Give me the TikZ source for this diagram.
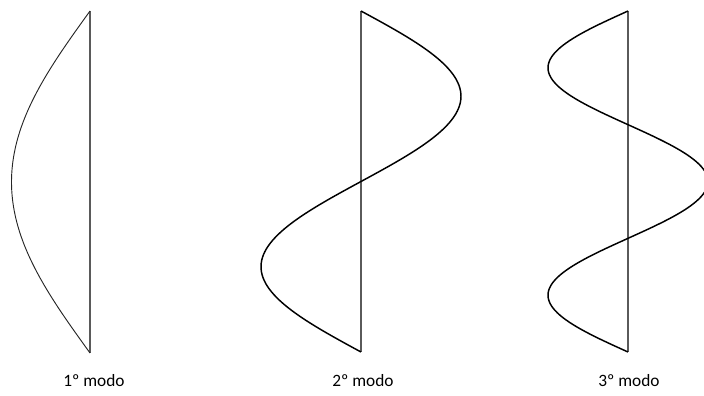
\documentclass[tikz,border=0pt]{standalone}
\usepackage{fontspec}
\setmainfont{Carlito}
\usepackage{tikz}
\usetikzlibrary{positioning,calc}
\definecolor{AxisGray}{RGB}{90,90,90}
\tikzset{
  axis/.style={draw=AxisGray,line width=0.8pt},
  wave/.style={draw=black,line width=1.1pt,smooth},
  thin wave/.style={draw=black!85,line width=0.7pt,smooth},
  lab/.style={font=\fontsize{13}{15}\selectfont,inner sep=0pt},
}

\begin{document}
\begin{tikzpicture}[x=0.75pt,y=-0.75pt]
\useasboundingbox (0,0) rectangle (704,396);
\coordinate (t1) at (90,11);
\coordinate (b1) at (90,353);
\coordinate (t2) at (361,11);
\coordinate (b2) at (361,352);
\coordinate (t3) at (628,11);
\coordinate (b3) at (628,352);
\draw[axis] (t1) -- (b1);
\draw[axis] (t2) -- (b2);
\draw[axis] (t3) -- (b3);
\draw[thin wave] plot[domain=11:353,samples=90] ({90-78.5*sin(180*((\x-11)/342))},\x);
\draw[wave] plot[domain=11:352,samples=120] ({361+100*sin(360*((\x-11)/341))},\x);
\draw[wave] plot[domain=11:352,samples=150] ({628-80*sin(540*((\x-11)/341))},\x);
\node[lab] (m1) at (94,381) {1º modo};
\node[lab] (m2) at (363,381) {2º modo};
\node[lab] (m3) at (629,381) {3º modo};
\end{tikzpicture}
\end{document}
